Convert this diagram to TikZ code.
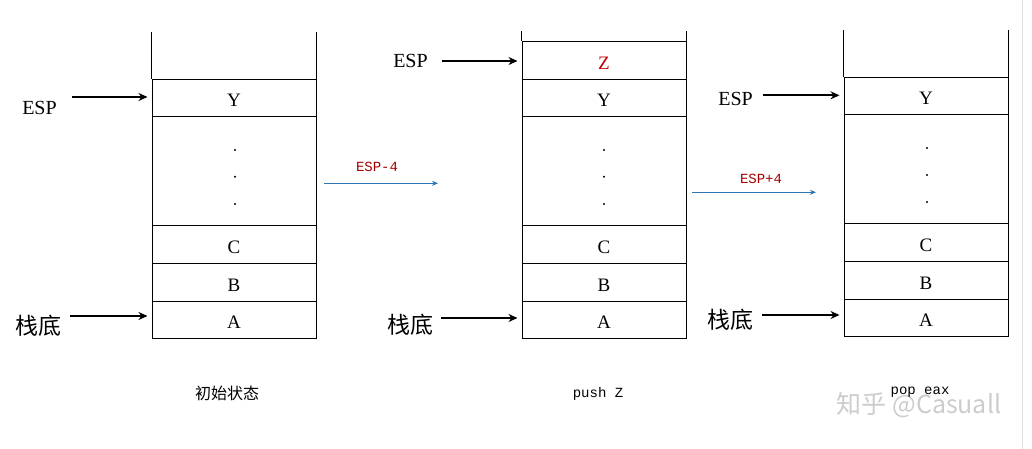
\documentclass[tikz,border=0pt]{standalone}
\usepackage{fontspec}
\setmainfont{Liberation Serif}
\newfontfamily\cjk{Noto Sans CJK SC}
\newfontfamily\mono{Liberation Mono}
\usetikzlibrary{arrows.meta}
\definecolor{stepblue}{RGB}{46,117,182}
\definecolor{zred}{RGB}{192,0,0}

\begin{document}
\begin{tikzpicture}[x = 1pt, y = -1pt,
  cell/.style = {draw, line width=1pt, minimum width=164pt, inner sep=0pt, text height=18pt, text depth=0pt, font=\fontsize{19}{19}\selectfont},
  reg/.style = {font=\fontsize{20}{20}\selectfont, inner sep=0pt},
  base/.style = {font=\cjk\fontsize{23}{23}\selectfont, inner sep=0pt},
  pointer/.style = {line width=2pt, -{Stealth[length=9pt,width=8pt]}, shorten >=4pt},
  move/.style = {draw=stepblue, line width=0.9pt, -{Stealth[length=6pt,width=5pt]}},
  movetext/.style = {text=zred!85!black, font=\mono\fontsize{14}{14}\selectfont},
  caption/.style = {font=\mono\fontsize{14}{14}\selectfont},]

\useasboundingbox (0,0) rectangle (1032,449);

% stack 1: start
\node[cell, minimum height=37pt] (Y1) at (234,97.8) {Y};
\node[cell, minimum height=109pt] (D1) at (234,170.8) {};
\node[cell, minimum height=38pt] (C1) at (234,244.3) {C};
\node[cell, minimum height=38pt] (B1) at (234,282.3) {B};
\node[cell, minimum height=37pt] (A1) at (234,319.8) {A};
\draw[line width=1pt] (Y1.north west) -- ++(0,-47);
\draw[line width=1pt] (Y1.north east) -- ++(0,-47);
\fill (235,150) circle (1.1) (235,176.7) circle (1.1) (235,204) circle (1.1);

\node[reg] (ESP1) at (39.5,108) {ESP};
\node[base] (BOT1) at (38.5,326) {栈底};
\coordinate (ESP1s) at (72,97);
\coordinate (BOT1s) at (70,316);
\draw[pointer] (ESP1s) -- (ESP1s -| Y1.west);
\draw[pointer] (BOT1s) -- (BOT1s -| A1.west);

% stack 2: push
\node[cell, minimum height=37.6pt, text=zred] (Z2) at (604,60.5) {Z};
\node[cell, minimum height=37pt] (Y2) at (604,97.8) {Y};
\node[cell, minimum height=109pt] (D2) at (604,170.8) {};
\node[cell, minimum height=38pt] (C2) at (604,244.3) {C};
\node[cell, minimum height=38pt] (B2) at (604,282.3) {B};
\node[cell, minimum height=37pt] (A2) at (604,319.8) {A};
\draw[line width=1pt] (Z2.north west) -- ++(0,-10);
\draw[line width=1pt] (Z2.north east) -- ++(0,-10);
\fill (604,150) circle (1.1) (604,176.7) circle (1.1) (604,204) circle (1.1);

\node[reg] (ESP2) at (410.5,61.3) {ESP};
\node[base] (BOT2) at (410.5,325) {栈底};
\coordinate (ESP2s) at (441.7,61);
\coordinate (BOT2s) at (441,318);
\draw[pointer] (ESP2s) -- (ESP2s -| Z2.west);
\draw[pointer] (BOT2s) -- (BOT2s -| A2.west);

% stack 3: pop
\node[cell, minimum height=37pt] (Y3) at (926,95.8) {Y};
\node[cell, minimum height=109pt] (D3) at (926,168.8) {};
\node[cell, minimum height=38pt] (C3) at (926,242.3) {C};
\node[cell, minimum height=38pt] (B3) at (926,280.3) {B};
\node[cell, minimum height=36.7pt] (A3) at (926,317.65) {A};
\draw[line width=1pt] (Y3.north west) -- ++(0,-47);
\draw[line width=1pt] (Y3.north east) -- ++(0,-47);
\fill (927,148) circle (1.1) (927,175) circle (1.1) (927,202) circle (1.1);

\node[reg] (ESP3) at (735.5,98.8) {ESP};
\node[base] (BOT3) at (730,320) {栈底};
\coordinate (ESP3s) at (763,95.3);
\coordinate (BOT3s) at (762,315);
\draw[pointer] (ESP3s) -- (ESP3s -| Y3.west);
\draw[pointer] (BOT3s) -- (BOT3s -| A3.west);

% steps between the stacks
\coordinate (M1s) at (324,183.3);
\coordinate (M1e) at (438,183.3);
\draw[move] (M1s) -- (M1e);
\node[movetext] (M1) at (377,167) {ESP-4};
\coordinate (M2s) at (692,192.3);
\coordinate (M2e) at (816,192.3);
\draw[move] (M2s) -- (M2e);
\node[movetext] (M2) at (761,179) {ESP+4};

% captions
\node[font=\cjk\fontsize{16}{16}\selectfont] (CAP1) at (227,393) {初始状态};
\node[caption] (CAP2) at (598,394) {push Z};
\node[text=gray!40, font=\cjk\fontsize{25}{25}\selectfont] (MARK) at (919,405) {知乎 @Casuall};
\node[caption] (CAP3) at (920,392) {pop eax};
\draw[gray!25, line width=1pt] (1022,0) -- (1022,449);

\end{tikzpicture}
\end{document}
